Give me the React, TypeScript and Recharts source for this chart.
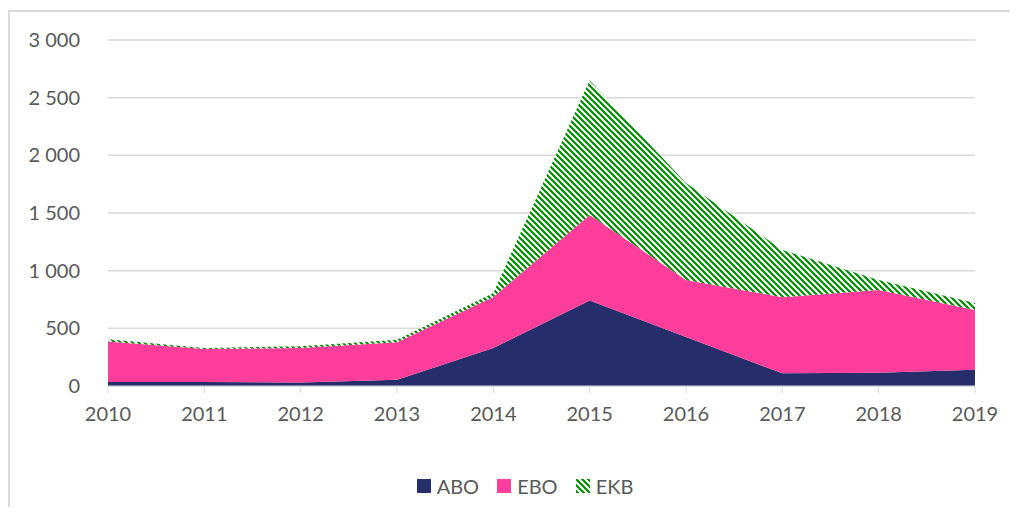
import { Area, AreaChart, CartesianGrid, XAxis, YAxis } from "recharts"

const years = ["2010", "2011", "2012", "2013", "2014", "2015", "2016", "2017", "2018", "2019"]
const abo = [35, 35, 30, 55, 330, 742, 425, 110, 115, 140]
const ebo = [350, 285, 300, 325, 442, 740, 495, 660, 718, 520]
const ekb = [20, 10, 15, 20, 35, 1170, 840, 410, 87, 60]
const yTicks = [0, 500, 1000, 1500, 2000, 2500, 3000]

const series = [
  { key: "ABO", values: abo, fill: "#252E6B" },
  { key: "EBO", values: ebo, fill: "#FF3D9A" },
  { key: "EKB", values: ekb, fill: "url(#ekbStripes)" },
]

const data = years.map((year, i) => ({
  year,
  ABO: abo[i],
  EBO: ebo[i],
  EKB: ekb[i],
}))

const font = "Lato, 'Open Sans', sans-serif"
const grey = "#d9d9d9"
const textColor = "#595959"

const fmt = (v: number) => String(v).replace(/\B(?=(\d{3})+(?!\d))/g, " ")

// Excel "wide downward diagonal" fill
function Stripes({ id }: { id: string }) {
  return (
    <pattern id={id} patternUnits="userSpaceOnUse" width={6} height={6}>
      <rect width={6} height={6} fill="#fff" />
      <path d="M0,0 L6,6 M-1.5,4.5 L1.5,7.5 M4.5,-1.5 L7.5,1.5" stroke="#008A00" strokeWidth={2.2} />
    </pattern>
  )
}

function StripeSwatch() {
  return (
    <svg width={14} height={14} style={{ display: "block" }}>
      <defs>
        <Stripes id="legendStripes" />
      </defs>
      <rect width={14} height={14} fill="url(#legendStripes)" />
    </svg>
  )
}

export default function App() {
  return (
    <div style={{ position: "relative", margin: -8, width: 1018, height: 515, overflow: "hidden", background: "#fff", fontFamily: font }}>
      <div
        style={{
          position: "absolute",
          left: 8,
          top: 10,
          width: 1030,
          height: 520,
          borderTop: `2px solid ${grey}`,
          borderLeft: `2px solid ${grey}`,
        }}
      />
      <div style={{ position: "absolute", left: 0, top: 0 }}>
        <AreaChart width={1018} height={515} data={data} margin={{ top: 40, right: 43, bottom: 89, left: 0 }}>
          <defs>
            <Stripes id="ekbStripes" />
          </defs>
          <CartesianGrid vertical={false} stroke={grey} strokeWidth={1.5} />
          <XAxis
            dataKey="year"
            height={40}
            stroke={grey}
            tickSize={7}
            tickMargin={14}
            tick={{ fill: textColor, fontSize: 20, fontFamily: font }}
          />
          <YAxis
            width={108}
            domain={[0, 3000]}
            ticks={yTicks}
            axisLine={false}
            tickLine={false}
            tickSize={0}
            tickMargin={28}
            tickFormatter={fmt}
            tick={{ fill: textColor, fontSize: 20, fontFamily: font }}
          />
          {series.map((s) => (
            <Area
              key={s.key}
              dataKey={s.key}
              stackId="a"
              type="linear"
              stroke="none"
              fill={s.fill}
              fillOpacity={1}
              isAnimationActive={false}
            />
          ))}
        </AreaChart>
      </div>
      <div
        style={{
          position: "absolute",
          top: 474,
          left: 0,
          width: 1050,
          display: "flex",
          justifyContent: "center",
          gap: 18,
          fontSize: 20,
          color: textColor,
        }}
      >
        {series.map((s) => (
          <div key={s.key} style={{ display: "flex", alignItems: "center", gap: 6 }}>
            {s.key === "EKB" ? (
              <StripeSwatch />
            ) : (
              <div style={{ width: 14, height: 14, background: s.fill }} />
            )}
            <span>{s.key}</span>
          </div>
        ))}
      </div>
    </div>
  )
}
